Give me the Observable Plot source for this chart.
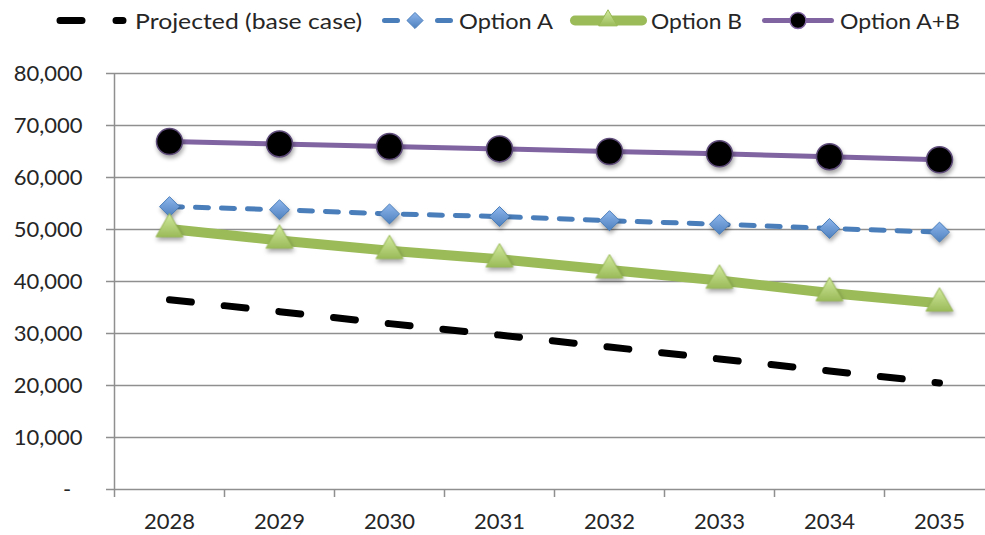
<!DOCTYPE html>
<html><head><meta charset="utf-8">
<script src="https://cdn.jsdelivr.net/npm/d3@7"></script>
<script src="https://cdn.jsdelivr.net/npm/@observablehq/plot@0.6"></script>
<style>
body{margin:0;background:#fff;font-family:Lato,sans-serif;}
#wrap{position:relative;width:985px;height:535px;overflow:hidden;background:#fff;}
#legend{position:absolute;left:0;top:0;}
#chart{position:absolute;left:0;top:40px;}
</style></head><body>
<div id="wrap"><svg id="legend" width="985" height="40"></svg><div id="chart"></div></div>
<script>
const years = [2028, 2029, 2030, 2031, 2032, 2033, 2034, 2035];
const projected = [36500, 34200, 31900, 29700, 27400, 25100, 22800, 20500];
const optionA = [54400, 53800, 53000, 52500, 51700, 51000, 50200, 49500];
const optionB = [50100, 47900, 45900, 44300, 42200, 40200, 37800, 35800];
const optionAB = [66900, 66450, 65950, 65500, 65000, 64550, 64000, 63400];
const seriesNames = ["Projected (base case)", "Option A", "Option B", "Option A+B"];
const yTicks = [0, 10000, 20000, 30000, 40000, 50000, 60000, 70000, 80000];
const bandEdges = [2027.5, 2028.5, 2029.5, 2030.5, 2031.5, 2032.5, 2033.5, 2034.5, 2035.5];

const rows = v => years.map((year, i) => ({year, value: v[i]}));
const grid = "#8f8f8f";
const text = "#262626";

const chart = Plot.plot({
  width: 985, height: 495,
  marginLeft: 114, marginRight: 0, marginTop: 33, marginBottom: 46,
  style: {fontFamily: "Lato, sans-serif", fontSize: "22px", color: text, background: "white", overflow: "visible"},
  x: {type: "linear", domain: [2027.5, 2035.5], range: [114, 994]},
  y: {domain: [0, 80000]},
  marks: [
    Plot.gridY(yTicks, {stroke: grid, strokeOpacity: 1, strokeWidth: 1.5}),
    Plot.axisY(yTicks, {tickSize: 8, tickPadding: 24, stroke: grid, strokeWidth: 1.5, strokeOpacity: 1,
      tickFormat: d => d === 0 ? "-\u00a0\u00a0" : d3.format(",")(d), label: null, fontSize: 22, fill: text}),
    Plot.ruleX([2027.5], {y1: 0, y2: 80000, stroke: grid, strokeWidth: 1.5}),
    Plot.axisX(bandEdges, {tickSize: 8, tickFormat: () => "", stroke: grid, strokeWidth: 1.5, strokeOpacity: 1, label: null}),
    Plot.axisX(years, {tickSize: 0, tickPadding: 24, tickFormat: d => String(d), label: null, fontSize: 22, fill: text}),
    Plot.line(rows(projected), {x: "year", y: "value", stroke: "#000", strokeWidth: 7, strokeDasharray: "22 33", strokeLinecap: "round"}),
    Plot.line(rows(optionA), {x: "year", y: "value", stroke: "#4A7EBB", strokeWidth: 5, strokeDasharray: "13 13", strokeLinecap: "round"}),
    Plot.dot(rows(optionA), {x: "year", y: "value", symbol: "diamond2", r: 9, fill: "#6A9BDB", stroke: "#4A7EBB", strokeWidth: 1}),
    Plot.line(rows(optionB), {x: "year", y: "value", stroke: "#9BBB59", strokeWidth: 10}),
    Plot.dot(rows(optionB), {x: "year", y: "value", symbol: "triangle", r: 10, fill: "#B4D36F", stroke: "#98B954", strokeWidth: 1}),
    Plot.line(rows(optionAB), {x: "year", y: "value", stroke: "#8064A2", strokeWidth: 5}),
    Plot.dot(rows(optionAB), {x: "year", y: "value", symbol: "circle", r: 13, fill: "#000", stroke: "#5E4B7A", strokeWidth: 1.5})
  ]
});
document.getElementById("chart").appendChild(chart);

// gradients & shadows
const svg = d3.select(chart);
const defs = svg.insert("defs", ":first-child");
const gB = defs.append("linearGradient").attr("id", "gradB").attr("x1", 0).attr("y1", 0).attr("x2", 0).attr("y2", 1);
gB.append("stop").attr("offset", "0%").attr("stop-color", "#D3EBA0");
gB.append("stop").attr("offset", "100%").attr("stop-color", "#9BBB59");
const gA = defs.append("linearGradient").attr("id", "gradA").attr("x1", 0).attr("y1", 0).attr("x2", 0).attr("y2", 1);
gA.append("stop").attr("offset", "0%").attr("stop-color", "#8DB5EC");
gA.append("stop").attr("offset", "100%").attr("stop-color", "#4F81BD");
const dotGroups = svg.selectAll('g[aria-label="dot"]').nodes();
dotGroups.forEach(g => g.style.filter = "drop-shadow(1px 3px 2px rgba(0,0,0,0.35))");
if (dotGroups[0]) d3.select(dotGroups[0]).selectAll("path").attr("fill", "url(#gradA)");
if (dotGroups[1]) d3.select(dotGroups[1]).selectAll("path").attr("fill", "url(#gradB)");

// legend
const L = d3.select("#legend");
const ly = 20.5;
const fontSize = 22;
const ld = L.append("defs");
const a2 = ld.append("linearGradient").attr("id", "gradA2").attr("x1", 0).attr("y1", 0).attr("x2", 0).attr("y2", 1);
a2.append("stop").attr("offset", "0%").attr("stop-color", "#8DB5EC");
a2.append("stop").attr("offset", "100%").attr("stop-color", "#4F81BD");
const b2 = ld.append("linearGradient").attr("id", "gradB2").attr("x1", 0).attr("y1", 0).attr("x2", 0).attr("y2", 1);
b2.append("stop").attr("offset", "0%").attr("stop-color", "#D3EBA0");
b2.append("stop").attr("offset", "100%").attr("stop-color", "#9BBB59");
// Projected
L.append("path").attr("d", `M60,${ly}H123`).attr("stroke", "#000").attr("stroke-width", 7)
  .attr("stroke-dasharray", "22 34").attr("stroke-linecap", "round").attr("fill", "none");
// Option A
L.append("path").attr("d", `M384.5,${ly}H397.5M437.5,${ly}H450.5`).attr("stroke", "#4A7EBB").attr("stroke-width", 5)
  .attr("stroke-linecap", "round").attr("fill", "none");
L.append("path").attr("d", d3.symbol(d3.symbolDiamond2, 165)()).attr("transform", `translate(415,${ly})`)
  .attr("fill", "url(#gradA2)").attr("stroke", "#4A7EBB");
// Option B
L.append("path").attr("d", `M575,${ly}H642`).attr("stroke", "#9BBB59").attr("stroke-width", 10)
  .attr("stroke-linecap", "round").attr("fill", "none");
L.append("path").attr("d", d3.symbol(d3.symbolTriangle, 150)()).attr("transform", `translate(608,${ly})`)
  .attr("fill", "url(#gradB2)").attr("stroke", "#98B954");
// Option A+B
L.append("path").attr("d", `M764.5,${ly}H831.5`).attr("stroke", "#8064A2").attr("stroke-width", 5)
  .attr("stroke-linecap", "round").attr("fill", "none");
L.append("circle").attr("cx", 798).attr("cy", ly).attr("r", 8).attr("fill", "#000").attr("stroke", "#8064A2").attr("stroke-width", 1.5);
const labelX = [135, 459, 651, 840];
const labelW = [227, 94, 91, 120];
seriesNames.forEach((name, i) => {
  L.append("text").attr("x", labelX[i]).attr("y", 28.5).attr("font-family", "Lato, sans-serif")
    .attr("font-size", fontSize).attr("fill", text)
    .attr("textLength", labelW[i]).attr("lengthAdjust", "spacingAndGlyphs").text(name);
});
</script>
</body></html>
